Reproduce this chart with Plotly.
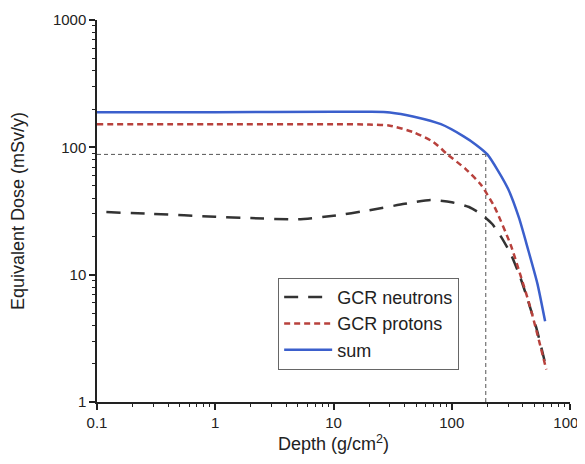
import plotly.graph_objects as go

# Data
depth_sum = [0.1, 1, 10, 20, 30, 48, 81, 126, 160, 200, 245, 300, 370, 440, 530, 616]
dose_sum = [189, 189, 190, 190, 188, 174, 152, 122, 105, 88, 66, 47, 28, 16, 8.5, 4.3]

depth_p = [0.1, 1, 10, 20, 30, 48, 70, 92, 130, 176, 230, 316, 385, 450, 530, 630]
dose_p = [152, 152, 152, 151, 148, 131, 110, 88, 68, 51, 34, 17, 9.6, 6.0, 3.4, 1.8]

depth_n = [0.12, 0.3, 1, 2, 5, 10, 20, 40, 66, 100, 140, 176, 220, 260, 316, 380, 440, 520, 610]
dose_n = [31, 30, 28.5, 27.8, 27.2, 29, 32, 36, 38.5, 37, 34, 30, 25, 20, 14.5, 9.5, 6.3, 3.8, 2.1]

ref_depth = 194
ref_dose = 88

xticks = [0.1, 1, 10, 100, 1000]
xtick_labels = ["0.1", "1", "10", "100", "1000"]
yticks = [1, 10, 100, 1000]
ytick_labels = ["1", "10", "100", "1000"]

def minor_vals(lo_exp, hi_exp):
    vals = []
    for e in range(lo_exp, hi_exp):
        for m in range(2, 10):
            vals.append(m * 10 ** e)
    return vals

fig = go.Figure()

# reference guide lines
fig.add_trace(go.Scatter(x=[0.1, ref_depth], y=[ref_dose, ref_dose], mode="lines",
                         line=dict(color="#555555", width=1, dash="4px,3px"),
                         showlegend=False, hoverinfo="skip"))
fig.add_trace(go.Scatter(x=[ref_depth, ref_depth], y=[1, ref_dose], mode="lines",
                         line=dict(color="#555555", width=1, dash="4px,3px"),
                         showlegend=False, hoverinfo="skip"))

fig.add_trace(go.Scatter(x=depth_n, y=dose_n, mode="lines", name="GCR neutrons",
                         line=dict(color="#333333", width=2.5, dash="14px,10px", shape="spline", smoothing=0.6)))
fig.add_trace(go.Scatter(x=depth_p, y=dose_p, mode="lines", name="GCR protons",
                         line=dict(color="#b8413c", width=2.5, dash="6px,4px", shape="spline", smoothing=0.6)))
fig.add_trace(go.Scatter(x=depth_sum, y=dose_sum, mode="lines", name="sum",
                         line=dict(color="#3b5fcc", width=2.5, shape="spline", smoothing=0.6)))

axis_common = dict(
    type="log", showgrid=False, zeroline=False, showline=True, automargin=False,
    linecolor="#222222", linewidth=1.5, ticks="outside", ticklen=6,
    tickwidth=1.5, tickcolor="#222222",
    tickfont=dict(family="Liberation Sans, Arial", size=15, color="#222222"),
)

fig.update_layout(
    width=585, height=464,
    margin=dict(l=89, r=23, t=12, b=70),
    paper_bgcolor="white", plot_bgcolor="white",
    font=dict(family="Liberation Sans, Arial", size=16, color="#222222"),
    xaxis=dict(axis_common, range=[-1, 3], tickvals=xticks, ticktext=xtick_labels,
               minor=dict(tickvals=minor_vals(-1, 3), ticks="outside", ticklen=3,
                          tickwidth=1, tickcolor="#222222", showgrid=False),
               title=dict(text="Depth (g/cm<sup>2</sup>)", font=dict(size=18), standoff=8)),
    yaxis=dict(axis_common, range=[0, 3], tickvals=yticks, ticktext=ytick_labels,
               minor=dict(tickvals=minor_vals(0, 3), ticks="outside", ticklen=3,
                          tickwidth=1, tickcolor="#222222", showgrid=False),
               title=dict(text="Equivalent Dose (mSv/y)", font=dict(size=18), standoff=24)),
    legend=dict(x=0.383, y=0.325, xanchor="left", yanchor="top",
                bordercolor="#666666", borderwidth=1, bgcolor="white",
                font=dict(size=18), tracegroupgap=0, itemwidth=48),
)

fig.write_html("out.html")
